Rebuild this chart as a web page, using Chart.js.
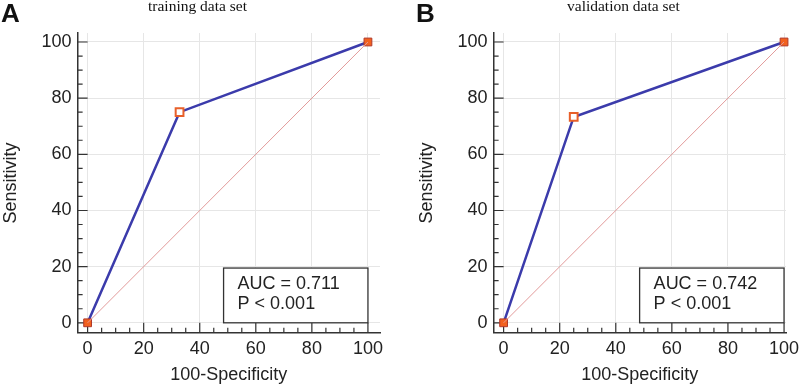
<!DOCTYPE html>
<html>
<head>
<meta charset="utf-8">
<script src="https://cdn.jsdelivr.net/npm/chart.js@4.4.0/dist/chart.umd.min.js"></script>
<style>
  body { margin: 0; background: #fff; }
  #wrap { position: relative; width: 800px; height: 388px; }
  .panel { position: absolute; top: 0; width: 400px; height: 388px; }
  .tag { position: absolute; top: -2px; font: bold 26px "Liberation Sans", Arial, sans-serif; color: #111; }
  .ttl { position: absolute; top: -3px; font: 15.5px "Liberation Serif", "Times New Roman", serif; color: #111; white-space: nowrap; }
</style>
</head>
<body>
<div id="wrap">
  <div class="panel" style="left:0"><canvas id="rocA" width="400" height="388"></canvas></div>
  <div class="panel" style="left:400px"><canvas id="rocB" width="400" height="388"></canvas></div>
  <div class="tag" style="left:1px">A</div>
  <div class="tag" style="left:416px">B</div>
  <div class="ttl" style="left:148px">training data set</div>
  <div class="ttl" style="left:567px">validation data set</div>
</div>
<script>
// ROC operating points (100-Specificity, Sensitivity)
const trainFpr = [0, 32.8, 100];
const trainSens = [0, 75, 100];
const validFpr = [0, 25, 100];
const validSens = [0, 73.3, 100];
const chanceLine = [0, 100];
const trainStats = ['AUC = 0.711', 'P < 0.001'];
const validStats = ['AUC = 0.742', 'P < 0.001'];
const tickValues = [0, 5, 10, 15, 20, 25, 30, 35, 40, 45, 50, 55, 60, 65, 70, 75, 80, 85, 90, 95, 100];

Chart.defaults.font.family = '"Liberation Sans", Arial, sans-serif';
Chart.defaults.font.size = 18;
Chart.defaults.color = '#222';

const isMajor = v => v % 20 === 0;

// small ticks pointing into the plot, like the original software
const innerTicks = {
  id: 'innerTicks',
  beforeDatasetsDraw(chart) {
    const ctx = chart.ctx, x = chart.scales.x, y = chart.scales.y;
    const a = chart.chartArea;
    ctx.save();
    ctx.strokeStyle = '#333';
    ctx.lineWidth = 1.2;
    ctx.beginPath();
    tickValues.forEach(v => {
      const len = isMajor(v) ? 10 : 5;
      const px = x.getPixelForValue(v);
      ctx.moveTo(px, a.bottom);
      ctx.lineTo(px, a.bottom - len);
      const py = y.getPixelForValue(v);
      ctx.moveTo(a.left, py);
      ctx.lineTo(a.left + len, py);
    });
    ctx.stroke();
    ctx.restore();
  }
};

const statsBox = {
  id: 'statsBox',
  beforeDatasetsDraw(chart, args, opts) {
    const ctx = chart.ctx, x = chart.scales.x, y = chart.scales.y;
    const l = x.getPixelForValue(48.5), r = x.getPixelForValue(100);
    const t = y.getPixelForValue(19.5), b = y.getPixelForValue(0);
    ctx.save();
    ctx.fillStyle = '#fff';
    ctx.fillRect(l, t, r - l, b - t);
    ctx.strokeStyle = '#333';
    ctx.lineWidth = 1.3;
    ctx.strokeRect(l, t, r - l, b - t);
    ctx.fillStyle = '#222';
    ctx.font = '18px "Liberation Sans", Arial, sans-serif';
    ctx.textBaseline = 'middle';
    ctx.fillText(opts.lines[0], l + 14, t + 16);
    ctx.fillText(opts.lines[1], l + 14, t + 36);
    ctx.restore();
  }
};

function makeRoc(id, fpr, sens, stats, xMax, padLeft, padRight) {
  const roc = fpr.map((v, i) => ({ x: v, y: sens[i] }));
  const diag = chanceLine.map(v => ({ x: v, y: v }));
  const gridOpts = {
    color: c => (c.tick && isMajor(c.tick.value)) ? '#e6e6e6' : 'rgba(0,0,0,0)',
    lineWidth: 1,
    drawTicks: false
  };
  return new Chart(document.getElementById(id), {
    type: 'scatter',
    data: {
      datasets: [{
        data: diag,
        showLine: true,
        borderColor: '#e29a9a',
        borderWidth: 1,
        pointRadius: 0,
        clip: false
      }, {
        data: roc,
        showLine: true,
        borderColor: '#3b3bab',
        borderWidth: 2.5,
        pointStyle: 'rect',
        pointRadius: 5.5,
        pointBackgroundColor: ['#f2611f', '#ffffff', '#f2611f'],
        pointBorderColor: ['#b0392a', '#e8602a', '#b0392a'],
        pointBorderWidth: [1, 2, 1],
        clip: false
      }]
    },
    options: {
      responsive: false,
      animation: false,
      layout: { padding: { top: 33, left: padLeft, right: padRight, bottom: 0 } },
      plugins: {
        legend: { display: false },
        tooltip: { enabled: false },
        statsBox: { lines: stats }
      },
      scales: {
        x: {
          type: 'linear',
          min: -3.56,
          max: xMax,
          afterBuildTicks: s => { s.ticks = tickValues.map(v => ({ value: v })); },
          afterFit: s => { s.paddingRight = 0; },
          ticks: { autoSkip: false, maxRotation: 0, padding: 5, callback: v => isMajor(v) ? v : '' },
          grid: gridOpts,
          border: { display: true, color: '#333', width: 1.5 },
          title: { display: true, text: '100-Specificity', padding: { top: 0, bottom: 2 } }
        },
        y: {
          type: 'linear',
          min: -3.56,
          max: 103.2,
          afterBuildTicks: s => { s.ticks = tickValues.map(v => ({ value: v })); },
          ticks: { autoSkip: false, padding: 6, callback: v => isMajor(v) ? v : '' },
          grid: gridOpts,
          border: { display: true, color: '#333', width: 1.5 },
          title: { display: true, text: 'Sensitivity', padding: { top: 0, bottom: 14 } }
        }
      }
    },
    plugins: [innerTicks, statsBox]
  });
}

makeRoc('rocA', trainFpr, trainSens, trainStats, 104.3, 0, 20);
makeRoc('rocB', validFpr, validSens, validStats, 100.7, 16, 14);
</script>
</body>
</html>
